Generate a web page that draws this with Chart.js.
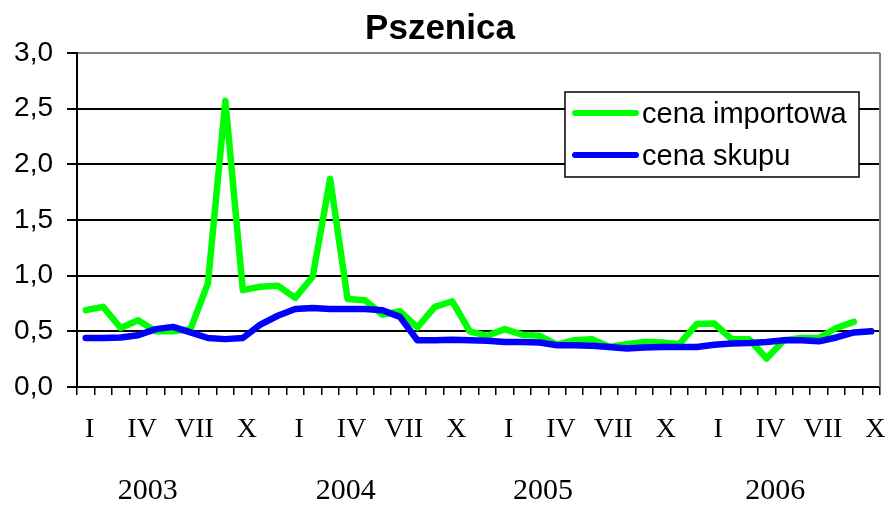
<!DOCTYPE html>
<html>
<head>
<meta charset="utf-8">
<script src="https://cdn.jsdelivr.net/npm/chart.js@4.4.1/dist/chart.umd.min.js"></script>
<style>
  body { margin: 0; background: #fff; }
</style>
</head>
<body>
<canvas id="wheatChart" width="888" height="505"></canvas>
<script>
const monthNames = ['I', 'II', 'III', 'IV', 'V', 'VI', 'VII', 'VIII', 'IX', 'X', 'XI', 'XII'];
const years = ['2003', '2004', '2005', '2006'];
const shownMonths = ['I', 'IV', 'VII', 'X'];
// where each year caption sits, in month-index units
const yearAnchor = [3.55, 14.9, 26.2, 39.5];

const categories = [];
years.forEach(y => monthNames.forEach(m => categories.push(m)));
categories.length = 46; // I 2003 .. X 2006

const importPrice = [
  0.69, 0.72, 0.53, 0.60, 0.50, 0.50, 0.52, 0.93, 2.57, 0.87,
  0.90, 0.91, 0.80, 0.99, 1.87, 0.79, 0.78, 0.65, 0.68, 0.535,
  0.72, 0.77, 0.50, 0.46, 0.52, 0.47, 0.46, 0.38, 0.42, 0.43,
  0.36, 0.385, 0.405, 0.40, 0.385, 0.565, 0.57, 0.43, 0.43, 0.256,
  0.42, 0.44, 0.44, 0.53, 0.585, null
];
const purchasePrice = [
  0.44, 0.44, 0.445, 0.465, 0.52, 0.54, 0.49, 0.44, 0.43, 0.44,
  0.56, 0.64, 0.70, 0.71, 0.70, 0.70, 0.70, 0.69, 0.63, 0.42,
  0.42, 0.425, 0.42, 0.415, 0.405, 0.405, 0.40, 0.375, 0.375, 0.37,
  0.36, 0.345, 0.355, 0.36, 0.36, 0.36, 0.38, 0.39, 0.395, 0.405,
  0.42, 0.42, 0.41, 0.445, 0.49, 0.50
];

const serif = "'Liberation Serif', 'Times New Roman', serif";
const sans = "'Liberation Sans', Arial, sans-serif";

// frame on the right, year captions and the boxed legend inside the plot
const extras = {
  id: 'extras',
  beforeDatasetsDraw(chart) {
    const { ctx, chartArea: a } = chart;
    ctx.save();
    ctx.strokeStyle = '#808080';
    ctx.lineWidth = 2;
    ctx.beginPath();
    ctx.moveTo(a.right, a.top);
    ctx.lineTo(a.right, a.bottom);
    ctx.stroke();
    ctx.restore();
  },
  afterDraw(chart) {
    const { ctx, chartArea: a } = chart;
    const x = chart.scales.x;
    ctx.save();
    ctx.fillStyle = '#000';
    ctx.font = '30px ' + serif;
    ctx.textAlign = 'center';
    ctx.textBaseline = 'middle';
    years.forEach((y, i) => {
      ctx.fillText(y, x.getPixelForValue(yearAnchor[i]), 491);
    });

    // legend
    const bx = a.right - 315, by = a.top + 39, bw = 294, bh = 85;
    ctx.fillStyle = '#fff';
    ctx.fillRect(bx, by, bw, bh);
    ctx.strokeStyle = '#000';
    ctx.lineWidth = 1.5;
    ctx.strokeRect(bx, by, bw, bh);
    ctx.font = '29px ' + sans;
    ctx.textAlign = 'left';
    chart.data.datasets.forEach((ds, i) => {
      const ly = by + 21 + i * 42;
      ctx.strokeStyle = ds.borderColor;
      ctx.lineWidth = 6;
      ctx.lineCap = 'round';
      ctx.beginPath();
      ctx.moveTo(bx + 10, ly);
      ctx.lineTo(bx + 71, ly);
      ctx.stroke();
      ctx.fillStyle = '#000';
      ctx.fillText(ds.label, bx + 77, ly + 2);
    });
    ctx.restore();
  }
};

const ctx = document.getElementById('wheatChart').getContext('2d');

const wheatChart = new Chart(ctx, {
  type: 'line',
  data: {
    labels: categories,
    datasets: [
      {
        label: 'cena importowa',
        data: importPrice,
        borderColor: '#00ff00',
        borderWidth: 6.5,
        order: 1
      },
      {
        label: 'cena skupu',
        data: purchasePrice,
        borderColor: '#0000ff',
        borderWidth: 6.5,
        order: 0
      }
    ]
  },
  options: {
    responsive: false,
    animation: false,
    layout: { padding: { left: 0, right: 8, top: 0, bottom: 58 } },
    elements: {
      point: { radius: 0 },
      line: { tension: 0, borderJoinStyle: 'round', borderCapStyle: 'round' }
    },
    plugins: {
      legend: { display: false },
      tooltip: { enabled: false },
      title: {
        display: true,
        text: 'Pszenica',
        color: '#000',
        font: { family: sans, size: 35, weight: 'bold' },
        padding: { top: 8, bottom: 3 }
      }
    },
    scales: {
      x: {
        offset: true,
        afterFit: s => { s.height = 60; s.paddingLeft = 0; s.paddingRight = 0; },
        border: { color: '#000', width: 2 },
        grid: {
          offset: true,
          drawOnChartArea: false,
          tickLength: 8,
          tickColor: '#000',
          lineWidth: 1.5
        },
        ticks: {
          autoSkip: false,
          maxRotation: 0,
          padding: 18,
          labelOffset: 4,
          color: '#000',
          font: { family: serif, size: 28 },
          callback: function (v) {
            const m = this.getLabelForValue(v);
            return shownMonths.includes(m) ? m : '';
          }
        }
      },
      y: {
        min: 0,
        max: 3,
        afterFit: s => { s.width = 77; },
        border: { color: '#000', width: 2 },
        grid: {
          color: c => (c.tick && c.tick.value === 3 ? '#808080' : '#000'),
          tickColor: '#000',
          lineWidth: 2,
          tickLength: 10
        },
        ticks: {
          stepSize: 0.5,
          padding: 14,
          color: '#000',
          font: { family: sans, size: 28 },
          callback: v => v.toFixed(1).replace('.', ',')
        }
      }
    }
  },
  plugins: [extras]
});
</script>
</body>
</html>
